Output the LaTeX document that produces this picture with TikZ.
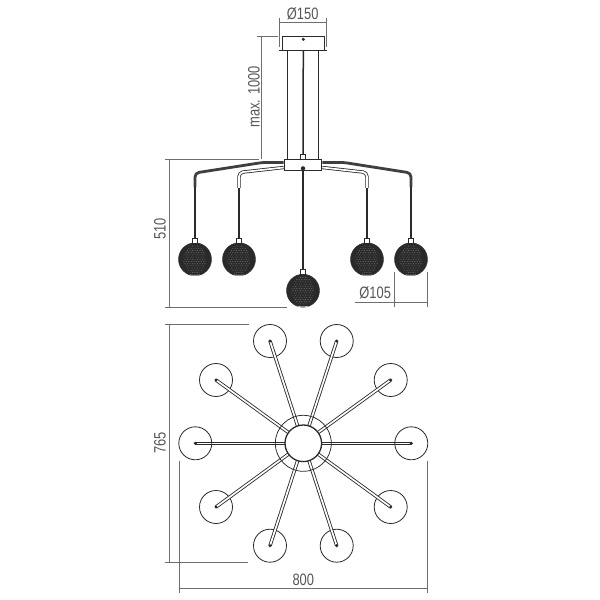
\documentclass[tikz,border=0pt]{standalone}
\usepackage{fontspec}
\setmainfont[FakeStretch=0.78]{Liberation Sans}
\definecolor{dimc}{HTML}{555555}
\definecolor{inkc}{HTML}{2A2A2A}
\tikzset{
  dimline/.style={draw=dimc!85,line width=.7pt},
  dimtext/.style={text=dimc,font=\fontsize{16.5}{17}\selectfont,inner sep=0pt},
  ink/.style={draw=inkc,line width=.9pt},
  cord/.style={draw=inkc,line width=1.5pt},
  blackarm/.style={draw=inkc!90!white,line width=2.8pt},
  whitearm/.style={draw=inkc,line width=.8pt,double=white,double distance=1.7pt},
  planarm/.style={draw=inkc,line width=.85pt,double=white,double distance=1.7pt},
  flatarm/.style={draw=inkc,line width=.85pt},
  lampring/.style={circle,draw=inkc,line width=.8pt,minimum size=33pt,inner sep=0pt},
  ballnode/.style={circle,fill=inkc,draw=inkc,line width=.4pt,minimum size=33pt,inner sep=0pt},
  socketnode/.style={rectangle,draw=inkc,fill=white,line width=.8pt,minimum width=4.4pt,minimum height=4.6pt,inner sep=0pt},
  tipnode/.style={circle,fill=inkc,minimum size=3.4pt,inner sep=0pt},
}
\newcommand{\lampball}[4]{% name, x, socket name, y
  \node[ballnode] (#1) at (#2,#4) {};
  \begin{scope}
    \clip (#2,#4) ellipse (11.5 and 14.5);
    \foreach \i in {-5,...,5}{\foreach \j in {-6,...,6}{
      \fill[gray!70!inkc] ({#2+\i*2.5+mod(\j+12,2)*1.25},{#4+\j*2.2}) circle (.55);
    }}
  \end{scope}
  \draw[white!75!inkc,line width=.7pt] (#2-5,#4+15.6) .. controls (#2-2,#4+16.2) and (#2+2,#4+16.2) .. (#2+5,#4+15.6);
  \node[socketnode] (#3) at (#2,#4-18.6) {};
}
\begin{document}
\begin{tikzpicture}[x=1pt,y=-1pt]
\useasboundingbox (0,0) rectangle (600,600);
\fill[white] (0,0) rectangle (600,600);

% ---- elevation: ceiling plate and rods
\node[rectangle,draw=inkc,line width=.8pt,minimum width=41.3pt,minimum height=14pt,inner sep=0pt] (plate) at (303.3,43) {};
\coordinate (pl) at (279.3,50);
\coordinate (pr) at (326.7,50);
\draw[ink] (pl) -- (pr);
\node[tipnode] (platedot) at (303.3,39.3) {};
\node[rectangle,draw=inkc,fill=white,line width=.9pt,minimum width=37.7pt,minimum height=11pt,inner sep=0pt] (hub) at (303,164.5) {};
\node[rectangle,draw=inkc,fill=white,line width=.6pt,minimum width=5pt,minimum height=4.7pt,inner sep=0pt] (hubcap) at (303,156.6) {};
\draw[ink] (287.3,50) -- (287.3,159);
\draw[ink] (318.7,50) -- (318.7,159);
\draw[cord] (plate.south) -- (hubcap.north);
\node[circle,fill=inkc,minimum size=4.4pt,inner sep=0pt] (hubdot) at (303,168.4) {};

% ---- balls
\lampball{ballA}{195}{sockA}{259.3}
\lampball{ballB}{239}{sockB}{259.3}
\lampball{ballC}{303}{sockC}{290.7}
\lampball{ballD}{367}{sockD}{259.3}
\lampball{ballE}{411}{sockE}{259.3}

% ---- arms
\coordinate (aAe) at (195,187);
\coordinate (aBe) at (239,188);
\coordinate (aDe) at (367,188);
\coordinate (aEe) at (411,187);
\draw[blackarm,rounded corners=4pt] (hub.west|-0,162.4) -- (263,162.4) -- (195,173) -- (aAe);
\draw[blackarm,rounded corners=4pt] (hub.east|-0,162.4) -- (343.5,162.4) -- (411,173) -- (aEe);
\draw[whitearm,rounded corners=4pt] (hub.west|-0,167.5) -- (239,172.5) -- (aBe);
\draw[whitearm,rounded corners=4pt] (hub.east|-0,167.5) -- (367,172.5) -- (aDe);
\draw[cord] (aAe) -- (sockA.north);
\draw[cord] (aBe) -- (sockB.north);
\draw[cord] (aDe) -- (sockD.north);
\draw[cord] (aEe) -- (sockE.north);
\draw[cord] (hub.south) -- (sockC.north);

% ---- elevation dimensions
\coordinate (d150a) at (279.3,18.3); \coordinate (d150b) at (279.3,46.7);
\coordinate (d150c) at (326,18.3);   \coordinate (d150d) at (326,46.7);
\coordinate (d150l) at (279.3,22.7); \coordinate (d150r) at (326,22.7);
\draw[dimline] (d150a) -- (d150b);
\draw[dimline] (d150c) -- (d150d);
\draw[dimline] (d150l) -- (d150r);
\node[dimtext] (t150) at (302.7,14) {Ø150};

\coordinate (mt) at (261.7,36); \coordinate (mb) at (261.7,159);
\coordinate (mtl) at (256.7,36); \coordinate (mtr) at (278.3,36);
\draw[dimline] (mt) -- (mb);
\draw[dimline] (mtl) -- (mtr);
\node[dimtext,rotate=90] (tmax) at (254,96.7) {max. 1000};

\coordinate (h1a) at (165,159); \coordinate (h1b) at (259,159);
\coordinate (h2a) at (165,307.3); \coordinate (h2b) at (286.7,307.3);
\coordinate (h1v) at (169.3,159); \coordinate (h2v) at (169.3,307.3);
\draw[dimline] (h1a) -- (h1b);
\draw[dimline] (h2a) -- (h2b);
\draw[dimline] (h1v) -- (h2v);
\node[dimtext,rotate=90] (t510) at (160,229) {510};

\coordinate (b1a) at (394.3,271.7); \coordinate (b1b) at (394.3,306.7);
\coordinate (b2a) at (427.3,271.7); \coordinate (b2b) at (427.3,306.7);
\coordinate (b3a) at (355,302); \coordinate (b3b) at (427.7,302);
\draw[dimline] (b1a) -- (b1b);
\draw[dimline] (b2a) -- (b2b);
\draw[dimline] (b3a) -- (b3b);
\node[dimtext] (t105) at (375.2,293.3) {Ø105};

% ---- plan view
\foreach \n/\x/\y in {a/270/341,b/336.7/341,c/216/380,d/390.7/380,e/195.3/443.3,f/411.3/443.3,g/216/507,h/390.7/507,i/270/545.7,j/336.7/545.7}{
  \node[lampring] (lamp\n) at (\x,\y) {};
}
\coordinate (center) at (303.3,443.3);
\foreach \n in {a,b,c,d,g,h,i,j}{
  \draw[planarm] (lamp\n.center) -- (center);
}
\foreach \n in {e,f}{
  \draw[flatarm] ([yshift=1.3pt]lamp\n.center) -- ([yshift=1.3pt]center);
  \draw[flatarm] ([yshift=-1.3pt]lamp\n.center) -- ([yshift=-1.3pt]center);
}
\foreach \n in {a,b,c,d,e,f,g,h,i,j}{
  \node[tipnode] (tip\n) at (lamp\n.center) {};
}
\node[circle,draw=inkc,line width=.75pt,minimum size=56pt,inner sep=0pt] (rimouter) at (center) {};
\node[circle,draw=inkc,fill=white,line width=1.3pt,minimum size=36.6pt,inner sep=0pt] (rim) at (center) {};

% ---- plan dimensions
\coordinate (p1a) at (165,324.3); \coordinate (p1b) at (249,324.3);
\coordinate (p2a) at (165,562.7); \coordinate (p2b) at (247.7,562.7);
\coordinate (p1v) at (169.3,324.3); \coordinate (p2v) at (169.3,562.7);
\draw[dimline] (p1a) -- (p1b);
\draw[dimline] (p2a) -- (p2b);
\draw[dimline] (p1v) -- (p2v);
\node[dimtext,rotate=90] (t765) at (160,443) {765};

\coordinate (q1a) at (179.3,461); \coordinate (q1b) at (179.3,592.7);
\coordinate (q2a) at (427.7,461); \coordinate (q2b) at (427.7,592.7);
\coordinate (q3a) at (179.3,588.3); \coordinate (q3b) at (427.7,588.3);
\draw[dimline] (q1a) -- (q1b);
\draw[dimline] (q2a) -- (q2b);
\draw[dimline] (q3a) -- (q3b);
\node[dimtext] (t800) at (303.3,580) {800};
\end{tikzpicture}
\end{document}
